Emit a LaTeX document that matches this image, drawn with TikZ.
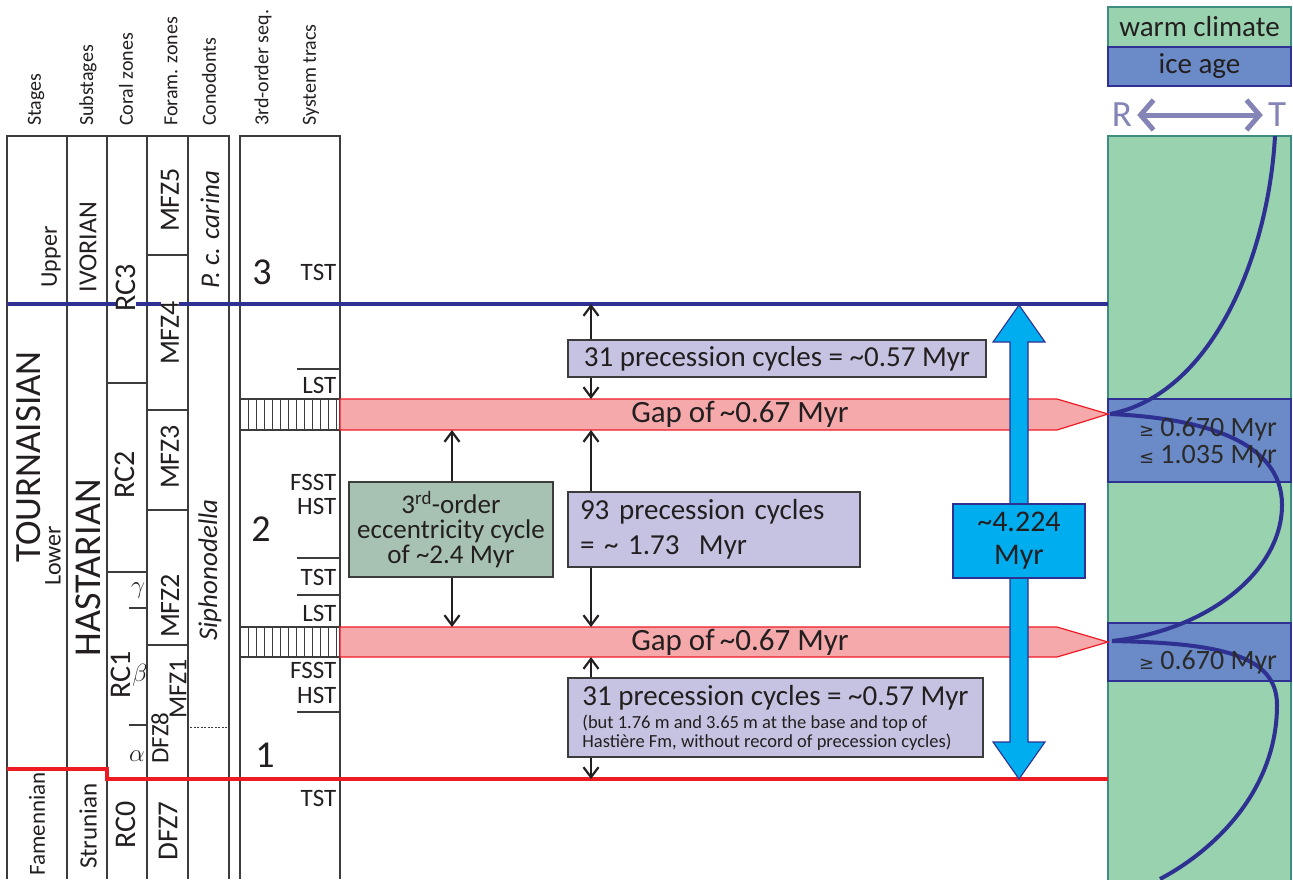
\documentclass[tikz,border=0pt]{standalone}
\usepackage{fontspec}
\setmainfont{Carlito}
\newfontfamily\symf{DejaVu Sans}
\usetikzlibrary{arrows.meta}
\definecolor{txt}{HTML}{231F20}
\definecolor{tblc}{HTML}{3C3C3C}
\definecolor{dblue}{HTML}{2E3192}
\definecolor{lred}{HTML}{ED1C24}
\definecolor{pinkf}{HTML}{F5A9AB}
\definecolor{lav}{HTML}{C5C3E1}
\definecolor{sage}{HTML}{A7C2B2}
\definecolor{cyanA}{HTML}{00AEEF}
\definecolor{warmg}{HTML}{99D2AE}
\definecolor{tealb}{HTML}{3E8D7F}
\definecolor{iceb}{HTML}{6A8BC7}
\definecolor{rtc}{HTML}{8484B6}
\definecolor{icetxt}{HTML}{2B2B2B}
\newcommand\fsz[2]{\fontsize{#1}{#2}\selectfont}
\begin{document}
\begin{tikzpicture}[x=1pt,y=-1pt,
  tbl/.style={draw=tblc,line width=1.1},
  t/.style={text=txt,inner sep=1pt},
  rt/.style={t,rotate=90},
  hdr/.style={t,rotate=90,anchor=west,font=\fsz{20}{22}},
  st/.style={t,anchor=east,inner sep=0.5pt,font=\fsz{25}{26}},
  seqn/.style={t,font=\fsz{38}{40}},
  blk/.style={draw=txt,line width=2.2,{Straight Barb[length=10,width=15]}-{Straight Barb[length=10,width=15]}},
  lavbox/.style={draw=tblc,fill=lav,line width=1.2,inner sep=0pt,text=txt},
  gapband/.style={draw=lred,fill=pinkf,line width=1.2},
  gaptext/.style={t,font=\fsz{31}{33}},
  icet/.style={text=icetxt,inner sep=1pt,font=\fsz{28}{30}},
  curve/.style={draw=dblue,line width=4},
  ge/.style={font=\fsz{26}{28}}
]
\useasboundingbox (0,0) rectangle (1293,879);

% ---------- headers ----------
\node[hdr] (hstage) at (36,127) {Stages};
\node[hdr] (hsub) at (88,127) {Substages};
\node[hdr] (hcor) at (126,127) {Coral zones};
\node[hdr] (hfor) at (171,127) {Foram. zones};
\node[hdr] (hcon) at (209,127) {Conodonts};
\node[hdr] (hseq) at (263,127) {3rd-order seq.};
\node[hdr] (hsys) at (311,127) {System tracs};

% ---------- left table ----------
\draw[tbl] (7,879) -- (7,136) -- (229,136) -- (229,879);
\foreach \xx in {67,107,147,188} \draw[tbl] (\xx,136) -- (\xx,879);
\draw[tbl] (107,383) -- (147,383);
\draw[tbl] (107,572) -- (147,572);
\draw[tbl] (129,608) -- (147,608);
\draw[tbl] (129,725) -- (147,725);
\draw[tbl] (147,255) -- (188,255);
\draw[tbl] (147,410) -- (188,410);
\draw[tbl] (147,510) -- (188,510);
\draw[tbl] (147,645) -- (188,645);
\draw[tblc,line width=1,dash pattern=on 2pt off 1.5pt] (190,727) -- (228,727);

% ---------- second table ----------
\draw[tbl] (240,879) -- (240,136) -- (340,136) -- (340,879);
\draw[tbl] (297,369) -- (340,369);
\draw[tbl] (297,558) -- (340,558);
\draw[tbl] (297,595) -- (340,595);
\draw[tbl] (297,712) -- (340,712);
\draw[tbl] (240,399) -- (340,399) (240,430) -- (340,430);
\draw[tbl] (240,627) -- (340,627) (240,657) -- (340,657);
\foreach \xx in {248,256,...,336} {
  \draw[tblc,line width=1] (\xx,399) -- (\xx,430);
  \draw[tblc,line width=1] (\xx,627) -- (\xx,657);
}

% ---------- right climate column ----------
\draw[draw=tealb,fill=warmg,line width=1.6] (1108,136) rectangle (1291,890);
\draw[draw=dblue,fill=iceb,line width=1.6] (1108,399) rectangle (1291,482);
\draw[draw=dblue,fill=iceb,line width=1.6] (1108,623) rectangle (1291,681);

% legend
\node[draw=tealb,fill=warmg,line width=1.6,minimum width=183,minimum height=40,inner sep=0pt,text=txt,font=\fsz{29}{30}] (warm) at (1199.5,27) {warm climate};
\node[draw=dblue,fill=iceb,line width=1.6,minimum width=183,minimum height=39,inner sep=0pt,text=txt,font=\fsz{29}{30}] (ice) at (1199.5,66.5) {ice age};
\node[text=rtc,inner sep=0pt,font=\fsz{37}{38}] (R) at (1122,115) {R};
\node[text=rtc,inner sep=0pt,font=\fsz{37}{38}] (T) at (1277,115) {T};
\draw[rtc,line width=5,{Straight Barb[length=13,width=30]}-{Straight Barb[length=13,width=30]}] (R.east) ++(5,0) coordinate (rta) (T.west) ++(-5,0) coordinate (rtb) (rta) -- (rtb);

% ---------- boundary lines ----------
\coordinate (bl0) at (7,304);
\coordinate (bl1) at (1108,304);
\draw[dblue,line width=4] (bl0) -- (bl1);
\coordinate (rl0) at (7,769);
\coordinate (rl1) at (1108,779);
\draw[lred,line width=4] (rl0) -- (107,769) -- (107,779) -- (rl1);

% ---------- gap bands ----------
\draw[gapband] (340,399) -- (1057,399) -- (1108,414) -- (1057,430) -- (340,430) -- cycle;
\draw[gapband] (340,627) -- (1057,627) -- (1108,642) -- (1057,657) -- (340,657) -- cycle;
\node[gaptext] (gap1) at (740,414) {Gap of\,\textasciitilde0.67 Myr};
\node[gaptext] (gap2) at (740,642) {Gap of\,\textasciitilde0.67 Myr};

% ---------- climate curve ----------
\draw[curve] (1275,136) .. controls (1268,260) and (1210,395) .. (1110,414);
\draw[curve] (1110,414) .. controls (1200,418) and (1282,440) .. (1282,505) .. controls (1282,570) and (1210,630) .. (1112,641);
\draw[curve] (1112,641) .. controls (1220,643) and (1277,655) .. (1277,705) .. controls (1277,790) and (1215,850) .. (1160,879);

\node[icet] (ice1) at (1208,429) {{\symf\fsz{18}{18}≥} 0.670 Myr};
\node[icet] (ice2) at (1208,457) {{\symf\fsz{18}{18}≤} 1.035 Myr};
\node[icet] (ice3) at (1208,662) {{\symf\fsz{18}{18}≥} 0.670 Myr};

% ---------- black arrows ----------
\coordinate (a1t) at (591,304);
\coordinate (a1b) at (591,399);
\coordinate (a2t) at (591,430);
\coordinate (a2b) at (591,627);
\coordinate (a3t) at (452,430);
\coordinate (a3b) at (452,627);
\coordinate (a4t) at (591,657);
\coordinate (a4b) at (591,779);
\draw[blk] (a1t) -- (a1b);
\draw[blk] (a2t) -- (a2b);
\draw[blk] (a3t) -- (a3b);
\draw[blk] (a4t) -- (a4b);

% ---------- boxes ----------
\node[lavbox,minimum width=418,minimum height=37,font=\fsz{29}{32}] (p31a) at (777,358.5) {31 precession cycles = \textasciitilde0.57 Myr};
\node[lavbox,minimum width=292,minimum height=75,text width=268,align=left,font=\fsz{29}{35}] (p93) at (714,529.5) {93 precession cycles\\= \textasciitilde\ 1.73\ \ Myr};
\node[draw=tblc,fill=sage,line width=1.2,minimum width=204,minimum height=95,inner sep=0pt,align=center,text=txt,font=\fsz{27}{25}] (ecc) at (451,529.5) {3\textsuperscript{rd}-order\\eccentricity cycle\\of \textasciitilde2.4 Myr};
\node[lavbox,minimum width=415,minimum height=79,align=left,font=\fsz{18.5}{19}] (p31b) at (775.5,717.5) {{\fsz{29}{30}31 precession cycles = \textasciitilde0.57 Myr}\\[4pt](but 1.76 m and 3.65 m at the base and top of\\Hastière Fm, without record of precession cycles)};

% ---------- big cyan arrow ----------
\coordinate (ct) at (1019,305);
\coordinate (cb) at (1019,779);
\draw[draw=dblue,fill=cyanA,line width=1.1] (ct) -- (1045,342) -- (1028,342) -- (1028,742) -- (1045,742) -- (cb) -- (993,742) -- (1010,742) -- (1010,342) -- (993,342) -- cycle;
\node[draw=dblue,fill=cyanA,line width=1.1,minimum width=132,minimum height=74,inner sep=0pt,align=center,text=txt,font=\fsz{30}{33}] (myr) at (1019,541) {\textasciitilde4.224\\Myr};

% ---------- column labels ----------
\node[rt,font=\fsz{24}{26}] (upper) at (51,257) {Upper};
\node[rt,font=\fsz{37}{39}] (tour) at (29,457) {TOURNAISIAN};
\node[rt,font=\fsz{24}{26}] (lower) at (53,556) {Lower};
\node[rt,font=\fsz{23}{25}] (famen) at (37,824) {Famennian};
\node[rt,font=\fsz{26}{28}] (ivor) at (88,247) {IVORIAN};
\node[rt,font=\fsz{38}{40}] (hast) at (88,568) {HASTARIAN};
\node[rt,font=\fsz{25}{27}] (strun) at (88,826) {Strunian};

\node[rt,font=\fsz{30}{31},fill=white,inner sep=0.5pt] (rc3) at (126,288) {RC3};
\node[rt,font=\fsz{30}{31}] (rc2) at (125,475) {RC2};
\node[rt,font=\fsz{30}{31}] (rc1) at (121,675) {RC1};
\node[rt,font=\fsz{30}{31}] (rc0) at (126,825) {RC0};
\node[t,ge] (gam) at (138,591) {$\gamma$};
\node[t,ge] (bet) at (140,675) {$\beta$};
\node[t,ge] (alp) at (137,756) {$\alpha$};

\node[rt,font=\fsz{28}{29}] (mfz5) at (170,200) {MFZ5};
\node[rt,font=\fsz{28}{29},fill=white,inner sep=0.5pt] (mfz4) at (170,333) {MFZ4};
\node[rt,font=\fsz{28}{29}] (mfz3) at (170,457) {MFZ3};
\node[rt,font=\fsz{28}{29}] (mfz2) at (170,606) {MFZ2};
\node[rt,font=\fsz{26}{27}] (mfz1) at (178,689) {MFZ1};
\node[rt,font=\fsz{25}{26}] (dfz8) at (160,738) {DFZ8};
\node[rt,font=\fsz{29}{30}] (dfz7) at (168,831) {DFZ7};

\node[rt,font=\fsz{27}{28}\itshape] (pcc) at (210,230) {P. c. carina};
\node[rt,font=\fsz{27}{28}\itshape] (siph) at (210,570) {Siphonodella};

% ---------- sequences ----------
\node[seqn] (s3) at (262,272) {3};
\node[seqn] (s2) at (261,529) {2};
\node[seqn] (s1) at (265,755) {1};
\node[st] (tst3) at (337,272) {TST};
\node[st] (lst2) at (337,385) {LST};
\node[st] (fsst2) at (337,482) {FSST};
\node[st] (hst2) at (337,506) {HST};
\node[st] (tst2) at (337,577) {TST};
\node[st] (lst1) at (337,613) {LST};
\node[st] (fsst1) at (337,670) {FSST};
\node[st] (hst1) at (337,695) {HST};
\node[st] (tst0) at (337,798) {TST};
\end{tikzpicture}
\end{document}
